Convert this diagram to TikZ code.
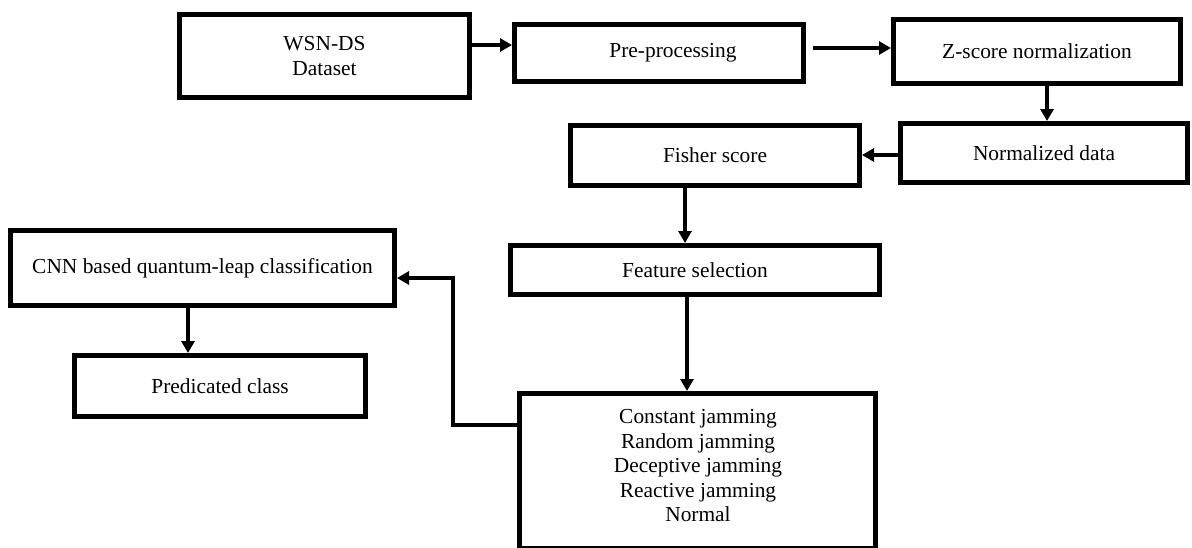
\documentclass[tikz,border=0pt]{standalone}
\usepackage{fontspec}
\setmainfont{Liberation Serif}
\usetikzlibrary{arrows.meta}
\begin{document}
\begin{tikzpicture}[x=1pt,y=-1pt,
  box/.style={draw=black,line width=5pt,fill=white,inner sep=0pt,align=center,
    font=\fontsize{21.4}{25}\selectfont},
  txt/.style={inner sep=0pt,align=center,font=\fontsize{21.4}{24.5}\selectfont},
  arr/.style={line width=4.5pt,-{Triangle[length=12pt,width=13pt]}}]
\useasboundingbox (0,0) rectangle (1192,547);
\clip (0,0) rectangle (1192,547);
\fill[white] (0,0) rectangle (1192,547);

\node[box,minimum width=290pt,minimum height=83pt] (wsn) at (324.5,56) {WSN-DS\\Dataset};
\node[box,minimum width=289pt,minimum height=57pt] (pre) at (659,53) {\hspace*{28pt}Pre-processing};
\node[box,minimum width=287pt,minimum height=64pt] (z) at (1037,51) {Z-score normalization};
\node[box,minimum width=287pt,minimum height=59pt] (norm) at (1044,153) {Normalized data};
\node[box,minimum width=289pt,minimum height=60pt] (fisher) at (715,155.5) {Fisher score};
\node[box,minimum width=369pt,minimum height=49pt] (feat) at (695,270) {Feature selection};
\node[box,minimum width=356pt,minimum height=155pt] (classes) at (697.5,471) {};
\node[txt] (classtxt) at (698,466) {Constant jamming\\Random jamming\\Deceptive jamming\\Reactive jamming\\Normal};
\node[box,minimum width=384pt,minimum height=75pt] (cnn) at (202.5,268) {CNN based quantum-leap classification};
\node[box,minimum width=291pt,minimum height=61pt] (pred) at (220,386) {Predicated class};

\coordinate (y45) at (0,45);
\coordinate (y48) at (0,48);
\coordinate (y155) at (0,155);
\coordinate (x1047) at (1047,0);
\coordinate (x685) at (685,0);
\coordinate (x687) at (687,0);
\coordinate (x188) at (188,0);
\coordinate (y425) at (0,425);
\coordinate (y278) at (0,278);
\coordinate (bend1) at (453,425);
\coordinate (bend2) at (453,278);

\draw[arr] (wsn.east |- y45) -- (pre.west |- y45);
\draw[arr] ([xshift=7pt]pre.east |- y48) -- (z.west |- y48);
\draw[arr] (z.south -| x1047) -- (norm.north -| x1047);
\draw[arr] (norm.west |- y155) -- (fisher.east |- y155);
\draw[arr] (fisher.south -| x685) -- (feat.north -| x685);
\draw[arr] (feat.south -| x687) -- (classes.north -| x687);
\draw[arr] (classes.west |- y425) -- (bend1) -- (bend2) -- (cnn.east |- y278);
\draw[arr] (cnn.south -| x188) -- (pred.north -| x188);
\end{tikzpicture}
\end{document}
